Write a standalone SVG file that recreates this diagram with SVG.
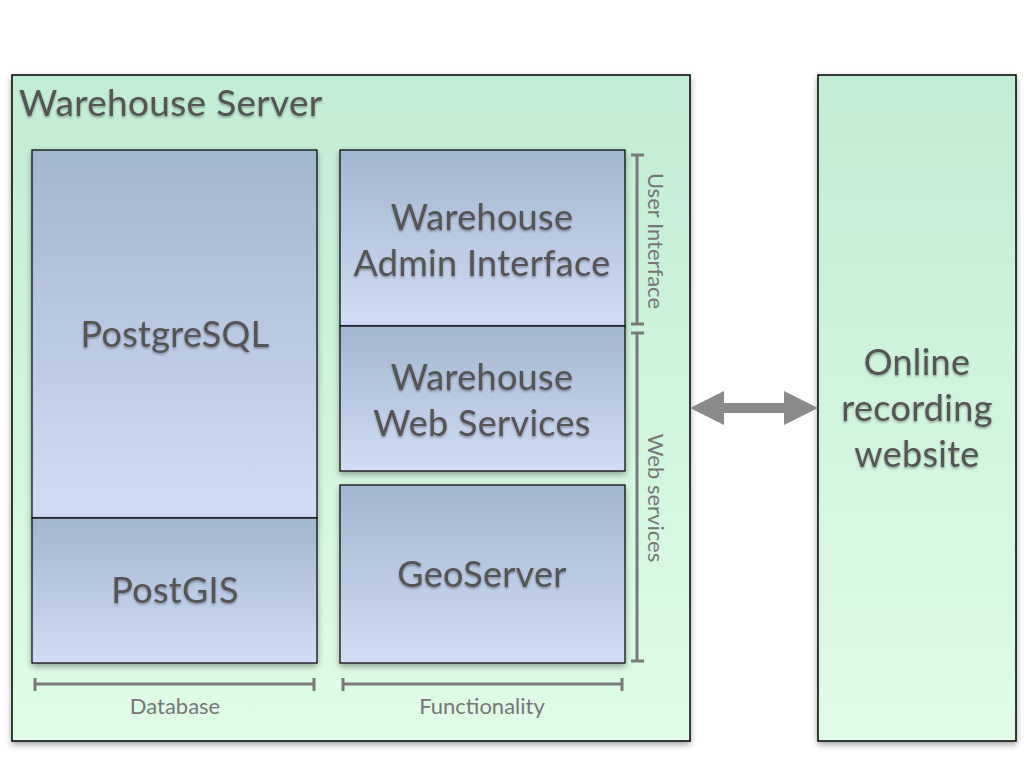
<svg xmlns="http://www.w3.org/2000/svg" width="1024" height="768" viewBox="0 0 1024 768">
  <defs>
    <linearGradient id="gGreen" x1="0" y1="0" x2="0" y2="1">
      <stop offset="0" stop-color="#c2ecd3"/>
      <stop offset="1" stop-color="#e0fce6"/>
    </linearGradient>
    <linearGradient id="gBlue" x1="0" y1="0" x2="0" y2="1">
      <stop offset="0" stop-color="#a2b6ce"/>
      <stop offset="1" stop-color="#d1ddf5"/>
    </linearGradient>
    <filter id="boxShadow" x="-10%" y="-10%" width="120%" height="120%">
      <feDropShadow dx="0" dy="3" stdDeviation="3" flood-color="#000" flood-opacity="0.35"/>
    </filter>
    <filter id="textShadow" x="-5%" y="-20%" width="110%" height="150%">
      <feDropShadow dx="0" dy="1.5" stdDeviation="1.2" flood-color="#000" flood-opacity="0.35"/>
    </filter>
    <marker id="head" viewBox="0 0 34 34" refX="0" refY="17" markerWidth="34" markerHeight="34" markerUnits="userSpaceOnUse" orient="auto-start-reverse">
      <path d="M0,0 L34,17 L0,34 Z" fill="#8a8a8a"/>
    </marker>
  </defs>
  <style>
    .outer { fill: url(#gGreen); stroke: #000; stroke-width: 1.5; filter: url(#boxShadow); }
    .inner { fill: url(#gBlue); stroke: #000; stroke-width: 1.2; filter: url(#boxShadow); }
    .big { font-family: "Lato", "Open Sans", sans-serif; font-size: 36px; letter-spacing: 0.3px; fill: #545454; text-anchor: middle; filter: url(#textShadow); }
    .title { font-family: "Lato", "Open Sans", sans-serif; font-size: 37px; letter-spacing: 0.3px; fill: #545454; filter: url(#textShadow); }
    .small { font-family: "Lato", "Open Sans", sans-serif; font-size: 22px; fill: #777777; text-anchor: middle; }
    .bracket { stroke: #7a7a7a; stroke-width: 3; fill: none; }
    .conn { stroke: #8a8a8a; stroke-width: 10; fill: none; }
  </style>

  <g id="warehouse-server">
    <rect class="outer" x="12" y="75" width="678" height="666"/>
    <text class="title" x="19" y="116">Warehouse Server</text>
  </g>

  <g id="online-recording-website">
    <rect class="outer" x="818" y="75" width="198" height="666"/>
    <text class="big" x="917" y="375">Online</text>
    <text class="big" x="917" y="421">recording</text>
    <text class="big" x="917" y="467">website</text>
  </g>

  <g id="postgresql">
    <rect class="inner" x="32" y="150" width="285" height="368"/>
    <text class="big" x="175" y="347">PostgreSQL</text>
  </g>

  <g id="postgis">
    <rect class="inner" x="32" y="518" width="285" height="145"/>
    <text class="big" x="175" y="603">PostGIS</text>
  </g>

  <g id="warehouse-admin-interface">
    <rect class="inner" x="340" y="150" width="285" height="176"/>
    <text class="big" x="482" y="230">Warehouse</text>
    <text class="big" x="482" y="276">Admin Interface</text>
  </g>

  <g id="warehouse-web-services">
    <rect class="inner" x="340" y="326" width="285" height="145"/>
    <text class="big" x="482" y="390">Warehouse</text>
    <text class="big" x="482" y="436">Web Services</text>
  </g>

  <g id="geoserver">
    <rect class="inner" x="340" y="485" width="285" height="178"/>
    <text class="big" x="482" y="587">GeoServer</text>
  </g>

  <g id="annotations">
    <path class="bracket" d="M637,155 V324 M631,155 H644 M631,324 H644"/>
    <text class="small" transform="translate(648,241) rotate(90)">User Interface</text>
    <path class="bracket" d="M637,333 V661 M631,333 H644 M631,661 H644"/>
    <text class="small" transform="translate(648,498) rotate(90)">Web services</text>
    <path class="bracket" d="M35,684 H314 M35,678 V691 M314,678 V691"/>
    <text class="small" x="175" y="714">Database</text>
    <path class="bracket" d="M343,684 H622 M343,678 V691 M622,678 V691"/>
    <text class="small" x="482" y="714">Functionality</text>
  </g>

  <g id="connectors">
    <line class="conn" x1="724" y1="408" x2="784" y2="408" marker-start="url(#head)" marker-end="url(#head)"/>
  </g>
</svg>
